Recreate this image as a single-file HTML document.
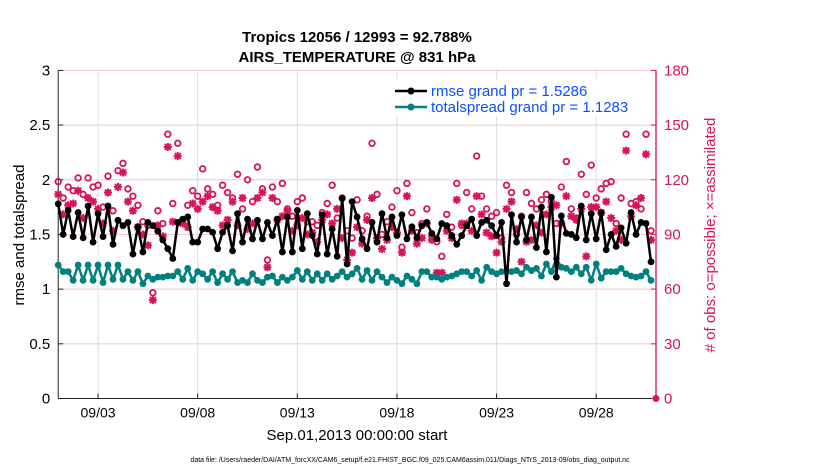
<!DOCTYPE html>
<html><head><meta charset="utf-8"><style>
body{margin:0;background:#fff;}
svg text{font-family:"Liberation Sans",Arial,sans-serif;}
</style></head><body>
<svg id="chart" width="830" height="470" viewBox="0 0 830 470" xmlns="http://www.w3.org/2000/svg">
<rect width="830" height="470" fill="#fff"/>
<g id="grid"></g>
<g id="axes"></g>
<g id="series"></g>
<text x="357" y="42" text-anchor="middle" font-size="15" font-weight="bold">Tropics 12056 / 12993 = 92.788%</text>
<text x="357" y="62" text-anchor="middle" font-size="15" font-weight="bold">AIRS_TEMPERATURE @ 831 hPa</text>
<text transform="translate(24,235) rotate(-90)" text-anchor="middle" font-size="15">rmse and totalspread</text>
<text transform="translate(715,235) rotate(-90)" text-anchor="middle" font-size="15" fill="#d6135c"># of obs: o=possible; ×=assimilated</text>
<text x="357" y="440" text-anchor="middle" font-size="15">Sep.01,2013 00:00:00 start</text>
<text x="410" y="462" text-anchor="middle" font-size="7">data file: /Users/raeder/DAI/ATM_forcXX/CAM6_setup/f.e21.FHIST_BGC.f09_025.CAM6assim.011/Diags_NTrS_2013-09/obs_diag_output.nc</text>
<g id="legend"></g>
</svg>
<script>
const xTickLabels=["09/03","09/08","09/13","09/18","09/23","09/28"];
const xTickDays=[2,7,12,17,22,27];
const yTicks=[0,0.5,1,1.5,2,2.5,3];
const y2Ticks=[0,30,60,90,120,150,180];
const rmse=[1.78,1.5,1.72,1.48,1.7,1.47,1.76,1.43,1.69,1.48,1.76,1.41,1.63,1.58,1.61,1.32,1.57,1.34,1.61,1.58,1.53,1.45,1.37,1.28,1.61,1.64,1.66,1.43,1.43,1.55,
1.55,1.52,1.37,1.52,1.58,1.35,1.69,1.43,1.64,1.46,1.63,1.46,1.61,1.49,1.64,1.34,1.66,1.34,1.72,1.37,1.69,1.49,1.32,1.68,1.32,1.55,1.30,1.83,1.23,1.80,
1.66,1.46,1.37,1.61,1.43,1.69,1.47,1.66,1.49,1.68,1.46,1.57,1.47,1.58,1.61,1.51,1.46,1.60,1.58,1.49,1.41,1.49,1.58,1.64,1.49,1.61,1.63,1.58,1.49,1.61,
1.05,1.68,1.43,1.66,1.45,1.66,1.38,1.75,1.34,1.84,1.11,1.67,1.51,1.50,1.47,1.76,1.45,1.69,1.46,1.70,1.36,1.50,1.39,1.56,1.42,1.70,1.50,1.61,1.60,1.25];
const spread=[1.22,1.16,1.16,1.08,1.22,1.08,1.22,1.08,1.22,1.06,1.22,1.09,1.22,1.09,1.16,1.08,1.16,1.05,1.12,1.09,1.11,1.11,1.12,1.12,1.16,1.09,1.19,1.08,1.16,1.14,
1.09,1.16,1.06,1.14,1.09,1.16,1.06,1.08,1.06,1.14,1.08,1.06,1.11,1.12,1.06,1.11,1.08,1.11,1.17,1.09,1.16,1.08,1.14,1.08,1.14,1.09,1.12,1.16,1.11,1.14,
1.19,1.09,1.17,1.08,1.16,1.11,1.06,1.11,1.08,1.05,1.12,1.09,1.05,1.16,1.16,1.11,1.11,1.09,1.11,1.12,1.14,1.16,1.16,1.12,1.17,1.08,1.20,1.16,1.14,1.16,
1.16,1.16,1.17,1.14,1.20,1.17,1.19,1.12,1.23,1.16,1.28,1.20,1.19,1.16,1.20,1.14,1.20,1.08,1.23,1.10,1.16,1.16,1.16,1.19,1.14,1.12,1.11,1.12,1.16,1.08];
const possible=[119,110,116,114,121,112,121,116,117,105,122,103,125,129,115,111,106,97,95,58,103,96,145,107,140,97,106,114,111,126,
115,112,106,117,113,110,123,104,120,108,127,115,76,116,108,118,104,100,108,110,97,97,95,102,107,117,99,110,92,88,
109,92,100,140,112,90,97,105,114,83,118,102,91,96,104,89,86,78,101,94,118,95,113,104,133,111,104,100,102,88,
117,113,90,100,113,107,104,109,112,108,96,116,130,104,99,123,112,128,110,115,118,119,96,110,145,107,108,104,145,92];
const assimilated=[112,101,106,107,114,99,110,108,104,96,113,92,116,124,108,103,94,90,84,54,95,89,138,97,133,96,94,107,104,108,
111,105,103,95,98,108,95,110,93,96,110,113,72,110,98,100,103,92,95,99,90,91,86,98,101,96,104,88,76,80,
94,85,98,110,88,82,87,94,91,80,111,92,85,88,96,87,69,69,92,88,109,96,96,92,111,101,91,89,80,86,
104,108,93,75,86,87,95,91,101,105,106,96,111,100,98,104,78,105,105,102,108,99,92,87,136,100,106,110,134,87];
const NS="http://www.w3.org/2000/svg";
const X0=58.2,X1=656,Y0=398.5,Y1=70.4;
const xScale=d=>X0+(X1-X0)*d/30;
const yScale=v=>Y0-(Y0-Y1)*v/3;
const y2Scale=c=>Y0-(Y0-Y1)*c/180;
const tDay=i=>i*0.25;
function mk(tag,attrs,parent){const e=document.createElementNS(NS,tag);for(const k in attrs)e.setAttribute(k,attrs[k]);parent.appendChild(e);return e;}
const grid=document.getElementById('grid'),axes=document.getElementById('axes'),ser=document.getElementById('series'),leg=document.getElementById('legend');
const MAG="#d6135c",TEAL="#00807f";
y2Ticks.forEach((c,i)=>{const y=y2Scale(c);
 const g=mk('line',{x1:X0,x2:X1,y1:y,y2:y,stroke:"#f2c6d6","stroke-width":1},grid);
 
 
});
xTickDays.forEach((d,i)=>{const x=xScale(d);
 const g=mk('line',{x1:x,x2:x,y1:Y1,y2:Y0,stroke:"#dcdcdc","stroke-width":1},grid);
 
 
 const t=mk('line',{x1:x,x2:x,y1:Y0,y2:Y0-5,stroke:"#222"},axes);
 
 
 const l=mk('text',{x:x,y:Y0+19,"text-anchor":"middle","font-size":"14"},axes);l.textContent=xTickLabels[i];
 
 
});
const la=mk('line',{x1:X0,x2:X0,y1:Y1,y2:Y0,stroke:"#222","stroke-width":1},axes);


const ba=mk('line',{x1:X0,x2:X1,y1:Y0,y2:Y0,stroke:"#222","stroke-width":1},axes);


const ra=mk('line',{x1:X1,x2:X1,y1:Y1,y2:Y0,stroke:MAG,"stroke-width":1.3},axes);


yTicks.forEach(v=>{const y=yScale(v);
 const t=mk('line',{x1:X0,x2:X0+5,y1:y,y2:y,stroke:"#222"},axes);
 
 
 const l=mk('text',{x:X0-8,y:y+5,"text-anchor":"end","font-size":"15"},axes);l.textContent=String(v);
 
 
});
y2Ticks.forEach(c=>{const y=y2Scale(c);
 const t=mk('line',{x1:X1-5,x2:X1,y1:y,y2:y,stroke:MAG},axes);
 
 
 const l=mk('text',{x:X1+8,y:y+5,"font-size":"15",fill:MAG},axes);l.textContent=String(c);
 
 
});
possible.forEach((c,i)=>{const e=mk('circle',{cx:xScale(tDay(i)),cy:y2Scale(c),r:2.8,fill:"none",stroke:MAG,"stroke-width":1.8},ser);
 
 
});
assimilated.forEach((c,i)=>{const x=xScale(tDay(i)),y=y2Scale(c);
 const p=mk('path',{d:`M${x-4},${y}H${x+4}M${x},${y-4}V${y+4}M${x-3},${y-3}L${x+3},${y+3}M${x-3},${y+3}L${x+3},${y-3}`,stroke:MAG,"stroke-width":2},ser);
 
 
});
function drawLine(vals,color,name){
 const d=vals.map((v,i)=>(i?'L':'M')+xScale(tDay(i)).toFixed(1)+','+yScale(v).toFixed(1)).join('');
 const p=mk('path',{d:d,fill:"none",stroke:color,"stroke-width":2.5,"stroke-linejoin":"round"},ser);
 
 
 vals.forEach((v,i)=>{const c=mk('circle',{cx:xScale(tDay(i)),cy:yScale(v),r:3.4,fill:color},ser);
  
  
 });
}
drawLine(spread,TEAL,'totalspread');
drawLine(rmse,"#000",'rmse');
const endPt=mk('circle',{cx:X1,cy:Y0,r:3.5,fill:MAG},ser);


const lbg=mk('rect',{x:390,y:80,width:262,height:36,fill:"#fff"},leg);


[["rmse grand pr = 1.5286","#000",91],["totalspread grand pr = 1.1283",TEAL,107]].forEach(([txt,col,y])=>{
 const ln=mk('line',{x1:395,x2:427,y1:y,y2:y,stroke:col,"stroke-width":2.5},leg);
 
 
 const c=mk('circle',{cx:411,cy:y,r:3.5,fill:col},leg);
 
 
 const t=mk('text',{x:431,y:y+5,"font-size":"15",fill:"#0a50ff"},leg);t.textContent=txt;
 
 
});
</script>
</body></html>
